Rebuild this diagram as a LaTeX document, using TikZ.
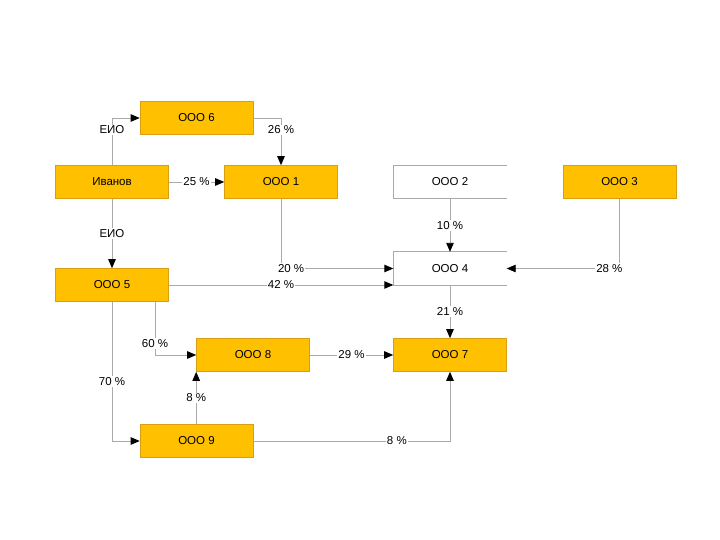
\documentclass[tikz,border=0pt]{standalone}
\usepackage{fontspec}
\setmainfont{Liberation Sans}
\usetikzlibrary{arrows.meta}
\definecolor{firmclr}{RGB}{255,192,0}
\definecolor{firmedge}{RGB}{215,160,20}
\definecolor{linkclr}{RGB}{170,170,170}
\tikzset{
  firm/.style={fill=firmclr, draw=firmedge, line width=0.6pt, minimum width=113pt,
               minimum height=33pt, inner sep=0pt, font=\fontsize{11.5}{13}\selectfont},
  plainfirm/.style={minimum width=113pt, minimum height=33pt, inner sep=0pt,
               font=\fontsize{11.5}{13}\selectfont},
  link/.style={draw=linkclr, line width=0.9pt, -{Triangle[length=9pt,width=7.5pt,color=black]}},
  share/.style={fill=white, inner sep=1.2pt, font=\fontsize{11.5}{13}\selectfont}
}
\begin{document}
\begin{tikzpicture}[x=1pt,y=-1pt]
  \useasboundingbox (0,0) rectangle (720,540);
  \node[firm] (ooo6) at (196.5,118) {ООО 6};
  \node[firm] (ivanov) at (112,182) {Иванов};
  \node[firm] (ooo1) at (281,182) {ООО 1};
  \node[plainfirm] (ooo2) at (450,182) {ООО 2};
  \node[firm] (ooo3) at (619.5,182) {ООО 3};
  \node[plainfirm] (ooo4) at (450,268.5) {ООО 4};
  \node[firm] (ooo5) at (112,285) {ООО 5};
  \node[firm] (ooo8) at (253,355) {ООО 8};
  \node[firm] (ooo7) at (450,355) {ООО 7};
  \node[firm] (ooo9) at (196.5,441) {ООО 9};
  \foreach \n in {ooo2,ooo4}
    \draw[linkclr, line width=0.9pt] (\n.north east) -- (\n.north west) -- (\n.south west) -- (\n.south east);
  \draw[link] (ivanov.north) |- (ooo6.west) node[share, pos=0.375] {ЕИО};
  \draw[link] (ooo6.east) -| (ooo1.north) node[share, pos=0.625] {26 \%};
  \draw[link] (ivanov.east) -- (ooo1.west) node[share, midway] {25 \%};
  \draw[link] (ivanov.south) -- (ooo5.north) node[share, midway] {ЕИО};
  \draw[link] (ooo1.south) |- (ooo4.west) node[share, pos=0.545] {20 \%};
  \draw[link] (ooo5.east) -- (ooo5.east -| ooo4.west) node[share, midway] {42 \%};
  \draw[link] (ooo2.south) -- (ooo4.north) node[share, midway] {10 \%};
  \draw[link] (ooo3.south) |- (ooo4.east) node[share, pos=0.545] {28 \%};
  \draw[link] (ooo4.south) -- (ooo7.north) node[share, midway] {21 \%};
  \draw[link] ([xshift=43pt]ooo5.south) |- (ooo8.west) node[share, pos=0.39] {60 \%};
  \draw[link] (ooo5.south) |- (ooo9.west) node[share, pos=0.286] {70 \%};
  \draw[link] (ooo9.north -| ooo8.west) -- (ooo8.south west) node[share, midway] {8 \%};
  \draw[link] (ooo8.east) -- (ooo7.west) node[share, midway] {29 \%};
  \draw[link] (ooo9.east) -| (ooo7.south) node[share, pos=0.365] {8 \%};
\end{tikzpicture}
\end{document}
